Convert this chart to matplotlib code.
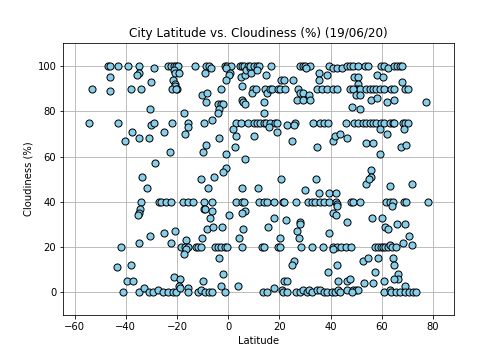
import matplotlib
matplotlib.use("Agg")
import matplotlib.pyplot as plt

# Southern latitudes (below -27)
lat_a = [-47, -46, -43, -39, -35, -29, -35, -35.5, -46, -30,
         -53, -46, -38, -34, -30.6, -54.5, -43, -30, -29,
         -37.5, -40.5, -35, -31, -28.6, -33.6, -31.7, -34, -27,
         -34.5, -35, -35.4, -30.6, -42, -34.8, -43.3, -38, -39.4, -37,
         -41, -35, -33, -31, -29.2, -27.5]
cloud_a = [100, 100, 100, 100, 100, 99, 97, 96, 95, 93,
           90, 89, 90, 90, 81, 75, 75, 74, 75,
           71, 67, 68, 68, 57, 51, 46, 40, 40,
           37, 35, 34, 25, 20, 22, 11, 12, 5, 5,
           0, 0, 2, 0, 0, 1]

# Tropics (-27 to 9)
lat_b = [-23.5, -22.2, -21.3, -20.3, -19.6, -13, -8.5, -7.6, -6.6, -1.4, -0.4, 0.9, 4.5, 5.4, 6.2, 7.7,
         -9.2, -21.3, -20.9, -19.3, -21.6, -20.7, -20.7, -19.9, -22, -20.3,
         -0.7, 0.6, 0.2, -0.7, 5.1, 6.4, 7.1, 8.4, 9,
         5.4, 9.7, -2.9, -10.1, -8.3, -8.8, -4, -2.7, -2, -3.4, -4, 5.4, 5.8, 6.7, -17.3,
         -22, -15.7, -9.6, -6.3, 2.9, 4.9, 7.7, -15.7, -17, -25.1, 1.9, 2.9, -3.6,
         -8.5, -9.8, 2.5, -22.9, -1, 6.4, -0.7, -2, -10.5, -5.5, -7.9, 5.4,
         -26.1, -24.2, -22.2, -17.7, -15.7, -13.8, -9.5, -6.3, 3.2, 5.4, 6.2, -9.5, -9, -6.3, -7.2, 6.7, 5.4, 0.2,
         -25.1, -20.9, -22.5, -16.4, -18.3, -16.7, -15.7, -16.4, -17.3, -12.4, -11.8, -10.5, -10.2, -8.2, -5.9, -2.4,
         -5.3, -4, -2.7, -1.4, -0.3, -3.6, 4.1, 5.8, 5.4, -21.2, -19, -19.3,
         -25.5, -23.5, -21.6, -20.3, -19, -15.7, -15.7, -11.8, -10.5, -9.2, -7.6, -6.3, -9.8, -2, -2.7, -1.4, 3.8]
cloud_b = [100, 100, 100, 100, 100, 100, 100, 100, 99, 100, 100, 100, 100, 100, 100, 100,
           97, 98, 97, 97, 94, 92, 91, 90, 90, 90,
           99, 97, 96, 94, 95, 96, 98, 99, 97,
           91, 90, 90, 87, 88, 84, 83, 83, 83, 81, 79, 85, 84, 83, 79,
           75, 75, 75, 76, 75, 75, 75, 73, 70, 71, 72, 69, 68,
           65, 62, 64, 62, 61, 59, 55, 53, 50, 51, 46, 46,
           40, 40, 40, 40, 40, 40, 40, 40, 40, 40, 40, 37, 37, 36, 33, 36, 35, 34,
           26, 27, 22, 23, 20, 20, 20, 19, 17, 20, 20, 20, 24, 28, 29, 29,
           20, 20, 20, 20, 20, 15, 24, 28, 20, 7, 6, 3,
           0, 0, 0, 0, 2, 2, 0, 0, 1, 0, 0, 0, 5, 8, 3, 0, 3]

# Mid northern latitudes (9 to 47)
lat_c = [8.6, 9.9, 11.2, 12.2, 16.6, 28.1, 29.1, 30, 31.9, 30.4, 39.5, 40.8, 42.6, 44.3, 46.2,
         11.4, 14.8, 20.5, 21.6, 25.2, 35.6, 35.6, 38.7,
         9.4, 10.9, 14.4, 15.3, 16.4, 17, 19.6, 20.3, 22.2, 27.4, 28.1, 29.4, 31.7, 34.5, 36.5, 38.7, 41, 42.6,
         26.8, 29.4, 31.9, 13.8, 14,
         10.1, 11.4, 12.5, 13.8, 14.8, 16.4, 18.3, 19, 26.1, 33.2, 35.8, 37.4, 39.1,
         16.1, 19.2, 23.1, 25.5, 9.9, 25.1, 34.5, 40.8, 41.7, 43.6, 46.5, 20.5, 34.2,
         11.8, 30, 35.6, 39.5, 42.1,
         12.2, 13.8, 15.1, 17.9, 21.3, 21.8, 26.5, 31.3, 32.6, 33.9, 35.8, 37.4, 39.5, 42.1, 42.6, 42.6,
         40.8, 42.1, 46.2, 17.9, 15.7, 22.6, 28.1, 28.1, 26.8, 27.8, 20.3, 39.5,
         13.1, 14, 19.6, 20.3, 28.3, 32.6, 37.1, 41, 42.6, 43.9, 46, 40.8,
         25.5, 24.8, 42.6, 39.1, 21.6, 22.9, 43, 46.2, 47.5, 17.9,
         13.5, 15.1, 20.9, 21.3, 22.9, 26.5, 28.1, 29.4, 30.6, 31.7, 32.6, 34.5, 35.8, 37.4, 38.7, 40.4, 41.7, 43, 43.6, 46.2]
cloud_c = [100, 100, 100, 100, 100, 100, 100, 100, 100, 99, 100, 99, 99, 99, 100,
           98, 96, 94, 94, 94, 97, 94, 96,
           88, 90, 90, 88, 90, 90, 90, 90, 90, 90, 88, 88, 87, 90, 90, 90, 90, 90,
           85, 85, 85, 84, 79,
           75, 75, 75, 75, 75, 75, 75, 75, 75, 75, 75, 75, 75,
           73, 71, 74, 74, 69, 67, 64, 67, 69, 70, 68, 50, 50,
           46, 45, 44, 44, 44,
           40, 40, 40, 40, 40, 40, 40, 40, 40, 40, 40, 40, 40, 40, 39, 38,
           35, 34, 31, 33, 29, 32, 31, 30, 27, 24, 24, 26,
           20, 20, 20, 20, 20, 20, 20, 20, 20, 20, 20, 19,
           14, 12, 12, 9, 5, 5, 5, 5, 6, 2,
           0, 0, 1, 0, 0, 0, 0, 1, 0, 1, 0, 1, 1, 0, 0, 0, 0, 1, 0, 1]

# High northern latitudes (above 46)
lat_d = [47.4, 48.7, 50.6, 53.5, 54.6, 59.7, 61, 62.3, 64.9, 66, 66.9, 67.8,
         49.3, 50.6, 58.2, 60.4, 50.6, 67.8,
         50, 50.6, 51.3, 47.4, 48.7, 53.9, 55.2, 56.5, 57.8, 59.1, 61, 63.6, 64.9, 69.1, 70.2,
         50, 51.3, 55.8, 58.2, 62.1, 64.7, 77.1, 48.3, 51.3,
         46.1, 49.3, 50.6, 52.6, 53.9, 55.2, 56.5, 57.8, 59.7, 60.8, 63, 64.3, 64.9, 68.2, 69.1, 70.2,
         59.1, 68.6, 62.1, 53.9, 56.5, 67.3, 69.5, 59.1, 55.6, 55.6, 53.9, 54.8, 63, 71.7,
         47.8, 48.7, 51.3, 61.7, 63, 64.3, 63.9, 68.6, 69.5, 78,
         56.1, 60, 61.3, 62.3, 65.9, 69.2, 70.5, 68.2, 71.7,
         47.8, 57.4, 58.4, 59.5, 60.4, 61.3, 62.3, 63, 63.9, 65.6,
         52.6, 54.5, 58.4, 64.3, 64.9, 57.4, 66.5, 66.5, 64.9,
         53.2, 56.5, 60.8, 68.9, 48.7, 50, 50.6, 48.3,
         61, 63, 63.6, 65.6, 66.9, 68.9, 70.8, 72.1, 73.4]
cloud_d = [100, 100, 100, 100, 100, 100, 100, 99, 100, 100, 100, 100,
           95, 95, 96, 95, 92, 93,
           90, 90, 90, 90, 90, 90, 90, 90, 90, 90, 90, 90, 90, 90, 90,
           87, 87, 85, 86, 84, 85, 84, 82, 81,
           75, 75, 75, 75, 75, 75, 75, 75, 75, 75, 75, 75, 75, 75, 75, 75,
           72, 72, 70, 66, 66, 64, 65, 61, 54, 51, 48, 50, 47, 48,
           40, 40, 40, 40, 40, 40, 38, 40, 40, 40,
           33, 33, 29, 28, 30, 30, 25, 22, 21,
           20, 20, 20, 20, 20, 20, 20, 21, 20, 20,
           14, 15, 15, 15, 12, 9, 8, 6, 6,
           4, 4, 5, 3, 1, 1, 1, 0,
           0, 1, 0, 0, 0, 0, 0, 0, 0]

latitude = lat_a + lat_b + lat_c + lat_d
cloudiness = cloud_a + cloud_b + cloud_c + cloud_d

fig = plt.figure(figsize=(7, 5), dpi=72)
ax = fig.add_axes([0.1256, 0.125, 0.7758, 0.7547])

ax.scatter(latitude, cloudiness, s=50, facecolor="skyblue", edgecolor="black", linewidth=1)

ax.set_title("City Latitude vs. Cloudiness (%) (19/06/20)")
ax.set_xlabel("Latitude")
ax.set_ylabel("Cloudiness (%)")
ax.set_xlim(-64.4, 88.3)
ax.set_ylim(-10, 110)
ax.grid(True)
ax.set_axisbelow(True)

fig.savefig("out.png", dpi=72)
